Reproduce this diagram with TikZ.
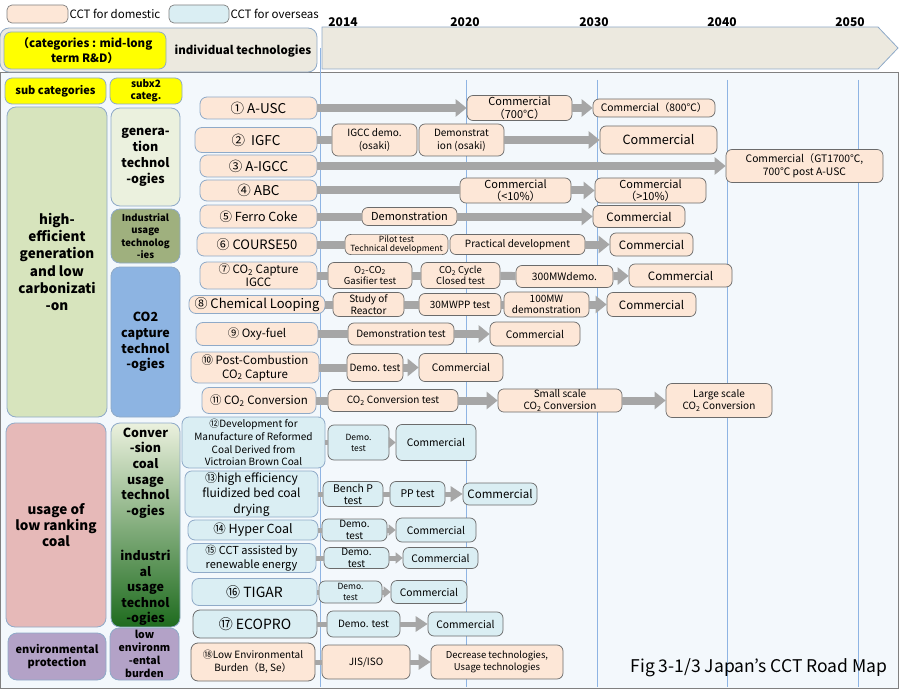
\documentclass[tikz,border=0pt]{standalone}
\usepackage{fontspec}
\setmainfont{Noto Sans CJK JP}
\usetikzlibrary{arrows.meta,positioning}
\definecolor{domFill}{HTML}{FDE7D7}
\definecolor{ovsFill}{HTML}{DAEEF3}
\definecolor{panelBlue}{HTML}{F3F8FC}
\definecolor{headBeige}{HTML}{ECE9DF}
\definecolor{barGray}{HTML}{A6A6A6}
\definecolor{lineBlue}{HTML}{8EB4E3}
\definecolor{edgeBlue}{HTML}{8FAAC8}
\definecolor{stepGray}{HTML}{6B6B6B}
\definecolor{catYellow}{HTML}{FFFF00}
\definecolor{catGreen}{HTML}{D7E4BD}
\definecolor{genGreen}{HTML}{EBF1DE}
\definecolor{indGreen}{HTML}{9FB07E}
\definecolor{co2Blue}{HTML}{8DB4E2}
\definecolor{lowPink}{HTML}{E6B9B8}
\definecolor{envPurple}{HTML}{B3A2C7}
\definecolor{convDark}{HTML}{1E6B1E}
\newcommand{\fz}[2]{\fontsize{#1}{#2}\selectfont}
\newcommand{\COtwo}{CO\textsubscript{2}}

\begin{document}
\begin{tikzpicture}[x=1pt,y=-1pt,
  wh/.style 2 args={minimum width=#1pt,minimum height=#2pt},
  lbox/.style={draw=edgeBlue,rounded corners=9pt,align=center,inner sep=1pt,line width=0.8pt},
  ybox/.style={draw=edgeBlue,fill=catYellow,rounded corners=7pt,align=center,inner sep=1pt,line width=0.8pt},
  tech/.style={draw=edgeBlue,fill=domFill,rounded corners=7pt,align=center,inner sep=1pt,line width=0.8pt},
  techo/.style={tech,fill=ovsFill},
  stepbox/.style={draw=stepGray,fill=domFill,rounded corners=6pt,align=center,inner sep=1pt,line width=0.7pt},
  stepo/.style={stepbox,fill=ovsFill},
  year/.style={font=\bfseries\fz{12}{14}},
  yline/.style={draw=lineBlue,line width=1pt},
  bar/.style={draw=barGray,line width=8pt},
  tbar/.style={draw=barGray,line width=5pt},
  head/.style={-{Triangle[length=11pt,width=17pt]}},
  shead/.style={-{Triangle[length=7pt,width=11pt]}}]
  \useasboundingbox (0,0) rectangle (900,690);
  % panel, time axis and year lines
  \draw[draw=gray,fill=panelBlue,line width=1pt] (0,73) rectangle (898,688);
  \draw[draw=edgeBlue,fill=headBeige,line width=0.8pt] (322,27) -- (878,27) -- (898,48) -- (878,69) -- (322,69) -- cycle;
  \foreach \xx/\yy in {320/48,466/80,597/80,727/80,858/80}{\draw[yline] (\xx,\yy) -- (\xx,687);}
  \node[year] (y2014) at (343,22) {2014};
  \node[year] (y2020) at (465,22) {2020};
  \node[year] (y2030) at (594,22) {2030};
  \node[year] (y2040) at (722,22) {2040};
  \node[year] (y2050) at (850,22) {2050};
  % legend
  \node[stepbox,draw=gray,rounded corners=5pt,wh={61}{18}] (legDom) at (37.5,14) {};
  \node[anchor=west,inner sep=1pt,font=\fz{11.5}{13}] (legDomTxt) at (legDom.east) {CCT for domestic};
  \node[stepo,draw=gray,rounded corners=5pt,wh={60}{18}] (legOvs) at (199,14) {};
  \node[anchor=west,inner sep=1pt,font=\fz{11.5}{13}] (legOvsTxt) at (legOvs.east) {CCT for overseas};
  % header
  \node[lbox,fill=headBeige,wh={317}{44}] (hdr) at (158.5,50) {};
  \node[ybox,wh={162}{37},font=\bfseries\fz{11.5}{15}] (hdrCat) at (85,50.5) {（categories : mid-long\\term R\&D）};
  \node[font=\bfseries\fz{11.5}{14}] (hdrTech) at (243,51) {individual technologies};
  \node[ybox,wh={101}{26},font=\bfseries\fz{11}{13}] (subHdr) at (55.5,91) {sub categories};
  \node[ybox,wh={72}{26},font=\bfseries\fz{10}{12}] (sub2Hdr) at (146,91) {subx2\\categ.};
  % categories
  \node[lbox,fill=catGreen,wh={100}{310},font=\bfseries\fz{13.5}{17.3}] (catHigh) at (57,262) {high-\\efficient\\generation\\and low\\carbonizati\\-on};
  \node[lbox,fill=genGreen,wh={69}{98},font=\bfseries\fz{12.5}{16}] (subGen) at (145.5,157) {genera-\\tion\\technol\\-ogies};
  \node[lbox,fill=indGreen,wh={69}{54},font=\bfseries\fz{9.5}{12.5}] (subInd) at (145.5,236) {Industrial\\usage\\technolog\\-ies};
  \node[lbox,fill=co2Blue,wh={69}{150},font=\bfseries\fz{12.5}{15.7}] (subCO2) at (145.5,342) {CO2\\capture\\technol\\-ogies};
  \node[lbox,fill=lowPink,wh={100}{204},font=\bfseries\fz{13.5}{16}] (catLow) at (56,525) {usage of\\low ranking\\coal};
  \node[lbox,top color=genGreen,bottom color=convDark,wh={69}{204}] (subConv) at (145.5,525) {};
  \node[align=center,font=\bfseries\fz{12.5}{15.6}] (convTxt) at (145.5,473) {Conver\\-sion\\coal\\usage\\technol\\-ogies};
  \node[align=center,font=\bfseries\fz{12.5}{15.6}] (indTxt) at (145.5,588) {industri\\al\\usage\\technol\\-ogies};
  \node[lbox,fill=envPurple,wh={98}{47},font=\bfseries\fz{11}{13.3}] (catEnv) at (57,656.5) {environmental\\protection};
  \node[lbox,fill=envPurple,wh={69}{52},font=\bfseries\fz{10.5}{13}] (subEnv) at (144.5,654) {low\\environm\\-ental\\burden};
  % individual technologies
  \node[tech,wh={117}{22},font=\fz{13.5}{16}] (t1) at (258.5,108) {① A-USC};
  \node[tech,wh={122}{25},font=\fz{13.5}{16}] (t2) at (256,140) {②\ \ IGFC};
  \node[tech,wh={117}{22},font=\fz{13.5}{16}] (t3) at (258.5,166) {③ A-IGCC};
  \node[tech,wh={117}{21},font=\fz{13.5}{16}] (t4) at (258.5,190.5) {④ ABC};
  \node[tech,wh={117}{23},font=\fz{12.5}{15}] (t5) at (258.5,216.5) {⑤ Ferro Coke};
  \node[tech,wh={120}{23},font=\fz{13}{15}] (t6) at (257,244.5) {⑥ COURSE50};
  \node[tech,wh={117}{27},font=\fz{11.5}{13}] (t7) at (258.5,275.5) {⑦ \COtwo{} Capture\\IGCC};
  \node[tech,wh={136}{18},font=\fz{13}{15}] (t8) at (257,304.5) {⑧ Chemical Looping};
  \node[tech,wh={122}{23},font=\fz{11.5}{14}] (t9) at (257,334) {⑨ Oxy-fuel};
  \node[tech,wh={128}{31},font=\fz{11.5}{14}] (t10) at (255,367.5) {⑩ Post-Combustion\\\COtwo{} Capture};
  \node[tech,wh={114}{26},font=\fz{11.5}{14}] (t11) at (259,400.5) {⑪ \COtwo{} Conversion};
  \node[techo,wh={143}{51},font=\fz{10}{12.7}] (t12) at (253.5,442.5) {⑫Development for\\Manufacture of Reformed\\Coal Derived from\\Victroian Brown Coal};
  \node[techo,wh={133}{44},font=\fz{12}{15.5}] (t13) at (251.5,494) {⑬high efficiency\\fluidized bed coal\\drying};
  \node[techo,wh={130}{20},font=\fz{12.5}{14}] (t14) at (253,530) {⑭ Hyper Coal};
  \node[techo,wh={129}{29},font=\fz{11}{14.5}] (t15) at (251.5,558) {⑮ CCT assisted by\\renewable energy};
  \node[techo,wh={125}{27},font=\fz{14}{16}] (t16) at (254.5,592) {⑯ TIGAR};
  \node[techo,draw=stepGray,wh={124}{28},font=\fz{14}{16}] (t17) at (255,624) {⑰ ECOPRO};
  \node[tech,draw=stepGray,wh={124}{38},font=\fz{10}{13}] (t18) at (253,662) {⑱Low Environmental\\Burden（B, Se）};
  % steps, domestic
  \node[stepbox,wh={105}{25},font=\fz{11}{13}] (s1a) at (519.5,108) {Commercial\\（700℃）};
  \node[stepbox,wh={122}{18},font=\fz{10.3}{12}] (s1b) at (654,108) {Commercial（800℃）};
  \node[stepbox,wh={85}{32},font=\fz{10}{13}] (s2a) at (374.5,140) {IGCC demo.\\(osaki)};
  \node[stepbox,wh={85}{32},font=\fz{10}{13}] (s2b) at (461.5,140) {Demonstrat\\ion (osaki)};
  \node[stepbox,wh={117}{28},font=\fz{12.7}{14}] (s2c) at (658.5,140) {Commercial};
  \node[stepbox,wh={157}{33},font=\fz{10.3}{13}] (s3a) at (804.5,166) {Commercial（GT1700℃,\\700℃ post A-USC};
  \node[stepbox,wh={111}{25},font=\fz{11}{12.5}] (s4a) at (515.5,190.5) {Commercial\\（<10\%）};
  \node[stepbox,wh={111}{25},font=\fz{11}{12.5}] (s4b) at (650.5,190.5) {Commercial\\（>10\%）};
  \node[stepbox,wh={95}{18},font=\fz{11}{13}] (s5a) at (409.5,216.5) {Demonstration};
  \node[stepbox,wh={92}{22},font=\fz{11.5}{13}] (s5b) at (639,216.5) {Commercial};
  \node[stepbox,wh={103}{20},font=\fz{8.5}{9.5}] (s6a) at (396.5,244.5) {Pilot test\\Technical development};
  \node[stepbox,wh={135}{20},font=\fz{10}{12}] (s6b) at (517.5,244.5) {Practical development};
  \node[stepbox,wh={83}{23},font=\fz{11.5}{13}] (s6c) at (651.5,244.5) {Commercial};
  \node[stepbox,wh={84}{26},font=\fz{9.5}{11.5}] (s7a) at (370,275.5) {O\textsubscript{2}-\COtwo\\Gasifier test};
  \node[stepbox,wh={79}{26},font=\fz{9.5}{11.5}] (s7b) at (460.5,275.5) {\COtwo{} Cycle\\Closed test};
  \node[stepbox,wh={97}{22},font=\fz{10.3}{12}] (s7c) at (564.5,276.5) {300MWdemo.};
  \node[stepbox,wh={103}{23},font=\fz{11.5}{13}] (s7d) at (680.5,275.5) {Commercial};
  \node[stepbox,wh={71}{24},font=\fz{10}{11.5}] (s8a) at (368.5,304.5) {Study of\\Reactor};
  \node[stepbox,wh={82}{22},font=\fz{10}{12}] (s8b) at (460,304.5) {30MWPP test};
  \node[stepbox,wh={85}{25},font=\fz{10}{11.5}] (s8c) at (546.5,304.5) {100MW\\demonstration};
  \node[stepbox,wh={89}{24},font=\fz{11.5}{13}] (s8d) at (651.5,304.5) {Commercial};
  \node[stepbox,wh={106}{22},font=\fz{10}{12}] (s9a) at (401,334) {Demonstration test};
  \node[stepbox,wh={90}{24},font=\fz{10.3}{12}] (s9b) at (535,334) {Commercial};
  \node[stepbox,wh={56}{28},font=\fz{10}{12}] (s10a) at (375,367.5) {Demo. test};
  \node[stepbox,wh={84}{28},font=\fz{10.3}{12}] (s10b) at (461,367.5) {Commercial};
  \node[stepbox,wh={130}{22},font=\fz{10}{12}] (s11a) at (393,400.5) {\COtwo{} Conversion test};
  \node[stepbox,wh={124}{23},font=\fz{10}{11.5}] (s11b) at (560,400.5) {Small scale\\\COtwo{} Conversion};
  \node[stepbox,wh={106}{34},font=\fz{10}{12.5}] (s11c) at (719,400.5) {Large scale\\\COtwo{} Conversion};
  % steps, overseas
  \node[stepo,wh={61}{35},font=\fz{8.5}{11}] (s12a) at (358.5,442.5) {Demo.\\test};
  \node[stepo,wh={80}{36},font=\fz{10.3}{12}] (s12b) at (436,442.5) {Commercial};
  \node[stepo,wh={60}{25},font=\fz{10.5}{12}] (s13a) at (353,494) {Bench P\\test};
  \node[stepo,wh={55}{25},font=\fz{10.5}{12}] (s13b) at (417.5,494) {PP test};
  \node[stepo,wh={74}{22},font=\fz{11.5}{13}] (s13c) at (500,494) {Commercial};
  \node[stepo,wh={65}{22},font=\fz{10}{11.5}] (s14a) at (354.5,530) {Demo.\\test};
  \node[stepo,wh={80}{24},font=\fz{10.3}{12}] (s14b) at (436,530) {Commercial};
  \node[stepo,wh={65}{21},font=\fz{10}{11.5}] (s15a) at (356.5,558) {Demo.\\test};
  \node[stepo,wh={75}{21},font=\fz{10.3}{12}] (s15b) at (440.5,558) {Commercial};
  \node[stepo,wh={63}{22},font=\fz{8.5}{10.5}] (s16a) at (350.5,592) {Demo.\\test};
  \node[stepo,wh={76}{23},font=\fz{10.3}{12}] (s16b) at (429,592) {Commercial};
  \node[stepo,wh={73}{26},font=\fz{10}{12}] (s17a) at (363.5,624) {Demo. test};
  \node[stepo,wh={75}{24},font=\fz{10.3}{12}] (s17b) at (465.5,624) {Commercial};
  \node[stepbox,wh={88}{34},font=\fz{10}{12}] (s18a) at (366,662) {JIS/ISO};
  \node[stepbox,wh={132}{34},font=\fz{9.5}{12.5}] (s18b) at (497,662) {Decrease technologies,\\Usage technologies};
  % connectors
  \foreach \a/\b in {t2/s2a,t4/s4a,t5/s5a,t6/s6a,t7/s7a,s7a/s7b,s7b/s7c,t8/s8a,s8a/s8b,s8b/s8c,t9/s9a,t10/s10a,t11/s11a}{\draw[bar] (\a) -- (\b);}
  \foreach \a/\b in {t1/s1a,s1a/s1b,s2b/s2c,t3/s3a,s4a/s4b,s5a/s5b,s6b/s6c,s7c/s7d,s8c/s8d,s9a/s9b,s10a/s10b,s11a/s11b,s11b/s11c}{\draw[bar,head] (\a) -- (\b);}
  \foreach \a/\b in {t12/s12a,t13/s13a,s13a/s13b,t14/s14a,t15/s15a,t16/s16a,t17/s17a,t18/s18a}{\draw[tbar] (\a) -- (\b);}
  \foreach \a/\b in {s12a/s12b,s14a/s14b,s15a/s15b,s16a/s16b}{\draw[tbar,shead] (\a) -- (\b);}
  \foreach \a/\b in {s13b/s13c,s17a/s17b,s18a/s18b}{\draw[tbar,-{Triangle[length=12pt,width=15pt]}] (\a) -- (\b);}
  \node[font=\fz{17.5}{20}] (caption) at (759,668) {Fig 3-1/3 Japan’s CCT Road Map};
\end{tikzpicture}
\end{document}
